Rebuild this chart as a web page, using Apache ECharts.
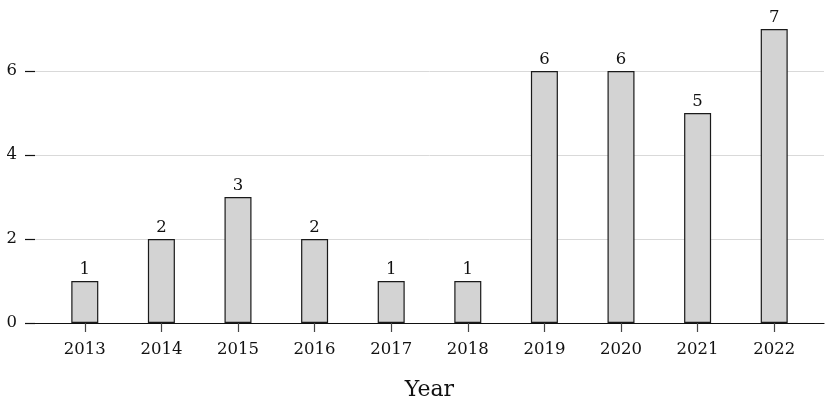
<!DOCTYPE html>
<html>
<head>
<meta charset="utf-8">
<script src="https://cdn.jsdelivr.net/npm/echarts@6/dist/echarts.min.js"></script>
<style>
  html, body { margin: 0; padding: 0; background: #fff; }
  #chart { width: 830px; height: 415px; }
</style>
</head>
<body>
<div id="chart"></div>
<script>
// years on the x axis
const years = [2013, 2014, 2015, 2016, 2017, 2018, 2019, 2020, 2021, 2022];
// number per year
const counts = [1, 2, 3, 2, 1, 1, 6, 6, 5, 7];
// y tick labels
const yTicks = [0, 2, 4, 6];

const font = 'DejaVu Serif';

let myChart = echarts.init(document.getElementById('chart'), null, { renderer: 'canvas' });

myChart.setOption({
  animation: false,
  grid: { left: 35, right: 6, top: 8, bottom: 92 },
  xAxis: {
    type: 'value',
    min: 2012.35,
    max: 2022.65,
    name: 'Year',
    nameLocation: 'middle',
    nameGap: 56,
    nameTextStyle: { fontFamily: font, fontSize: 22, color: '#111' },
    axisLine: { show: true, lineStyle: { color: '#111', width: 1.2 } },
    axisTick: { show: true, length: 9, customValues: years, lineStyle: { color: '#444', width: 1.2 } },
    axisLabel: {
      customValues: years,
      formatter: function (v) { return String(v); },
      fontFamily: font, fontSize: 16.5, color: '#111', margin: 18
    },
    splitLine: { show: false }
  },
  yAxis: {
    type: 'value',
    min: 0,
    max: 7.5,
    axisLine: { show: false },
    axisTick: { show: true, length: 10, customValues: yTicks, lineStyle: { color: '#111', width: 1.2 } },
    axisLabel: { customValues: yTicks, fontFamily: font, fontSize: 16.5, color: '#111', margin: 18 },
    splitLine: { show: true, lineStyle: { color: '#d9d9d9', width: 1 } }
  },
  series: [{
    type: 'bar',
    barWidth: 27,
    data: years.map(function (y, i) { return [y, counts[i]]; }),
    itemStyle: { color: '#d3d3d3', borderColor: '#1a1a1a', borderWidth: 1.2 },
    label: {
      show: true,
      position: 'top',
      distance: 3,
      formatter: function (p) { return p.value[1]; },
      fontFamily: font, fontSize: 16.5, color: '#111'
    }
  }]
});
</script>
</body>
</html>
